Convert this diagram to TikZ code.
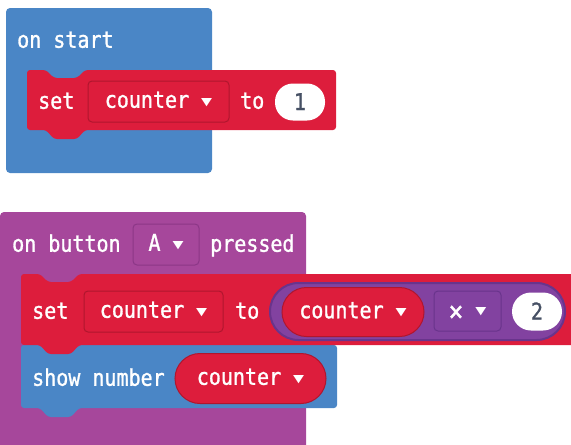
\documentclass[tikz,border=0pt]{standalone}
\usepackage{fontspec,graphicx}
\newfontfamily\blockfont[FakeStretch=0.87,FakeBold=1.2]{DejaVu Sans Mono}
\newfontfamily\arrowfont{DejaVu Sans}
\definecolor{mbblue}{RGB}{74,134,198}
\definecolor{mbred}{RGB}{221,29,60}
\definecolor{mbreddark}{RGB}{176,22,46}
\definecolor{mbpurple}{RGB}{166,71,155}
\definecolor{mbpurpledark}{RGB}{140,55,135}
\definecolor{mbmath}{RGB}{130,66,160}
\definecolor{mbmathdark}{RGB}{105,52,140}
\definecolor{mbnum}{RGB}{70,80,100}
\usetikzlibrary{positioning}
\newcommand{\dd}{ \raisebox{2.7pt}{\resizebox{11pt}{7pt}{\arrowfont ▼}}}
\tikzset{
  lbl/.style={text=white,font=\blockfont\fontsize{23}{26}\selectfont,inner sep=0pt,
              text height=12.5pt,text depth=0pt,anchor=west},
  dropbox/.style={lbl,anchor=center,rounded corners=4pt,line width=1pt},
  pill/.style={dropbox,rounded corners=#1},
  numpill/.style={pill=#1,fill=white,text=mbnum,text height=16pt}
}

\begin{document}
\begin{tikzpicture}[x=1pt,y=-1pt]
  \useasboundingbox (0,0) rectangle (571,445);

  %% on start
  \fill[mbblue,rounded corners=4pt] (6,8) rectangle (212,173);
  \node[lbl] (start) at (17,41.5) {on start};
  \fill[mbred,rounded corners=3pt] (27,70) -- (46,70) -- (54,78) -- (77,78) -- (85,70)
       -- (336,70) -- (336,130) -- (85,130) -- (77,139) -- (54,139) -- (46,130)
       -- (27,130) -- cycle;
  \node[lbl] (set1) at (38,102.5) {set};
  \node[dropbox,fill=mbred,draw=mbreddark,minimum width=141pt,minimum height=41pt]
       (var1) at (158.5,101.5) {counter\dd};
  \node[lbl] (to1) at (240,102.5) {to};
  \node[numpill=18pt,minimum width=50pt,minimum height=37pt] (one) at (300,102) {1};

  %% on button A pressed
  \fill[mbpurple,rounded corners=4pt] (0,212) rectangle (306,460);
  \node[lbl] (button) at (12,245.5) {on button};
  \node[dropbox,fill=mbpurple,draw=mbpurpledark,minimum width=66pt,minimum height=41pt]
       (btnA) at (166,244.5) {A\dd};
  \node[lbl] (pressed) at (210,245.5) {pressed};

  %% show number
  \fill[mbblue,rounded corners=3pt] (21,345) -- (40,345) -- (48,353) -- (71,353) -- (79,345)
       -- (337,345) -- (337,408) -- (79,408) -- (71,417) -- (48,417) -- (40,408)
       -- (21,408) -- cycle;
  \node[lbl] (show) at (32,379.5) {show number};
  \node[pill=25pt,fill=mbred,draw=mbreddark,minimum width=151pt,minimum height=50pt]
       (var3) at (250.5,378.5) {counter\dd};

  %% set counter to counter x 2
  \fill[mbred,rounded corners=3pt] (21,274) -- (40,274) -- (48,282) -- (71,282) -- (79,274)
       -- (580,274) -- (580,345) -- (79,345) -- (71,354) -- (48,354) -- (40,345)
       -- (21,345) -- cycle;
  \node[lbl] (set2) at (32,312.5) {set};
  \node[dropbox,fill=mbred,draw=mbreddark,minimum width=139pt,minimum height=41pt]
       (var2) at (153.5,311.5) {counter\dd};
  \node[lbl] (to2) at (235,312.5) {to};
  \node[pill=28.5pt,fill=mbmath,draw=mbmathdark,line width=2pt,
        minimum width=295pt,minimum height=57pt] (times) at (417.5,311.5) {};
  \node[pill=24.5pt,fill=mbred,draw=mbreddark,minimum width=142pt,minimum height=49pt]
       (var4) at (353,312) {counter\dd};
  \node[dropbox,fill=mbmath,draw=mbmathdark,minimum width=67pt,minimum height=40pt]
       (op) at (467.5,311) {\raisebox{-3.5pt}{\fontsize{28}{28}\selectfont ×}\dd};
  \node[numpill=19pt,minimum width=50pt,minimum height=38pt] (two) at (537,311.5) {2};
\end{tikzpicture}
\end{document}
